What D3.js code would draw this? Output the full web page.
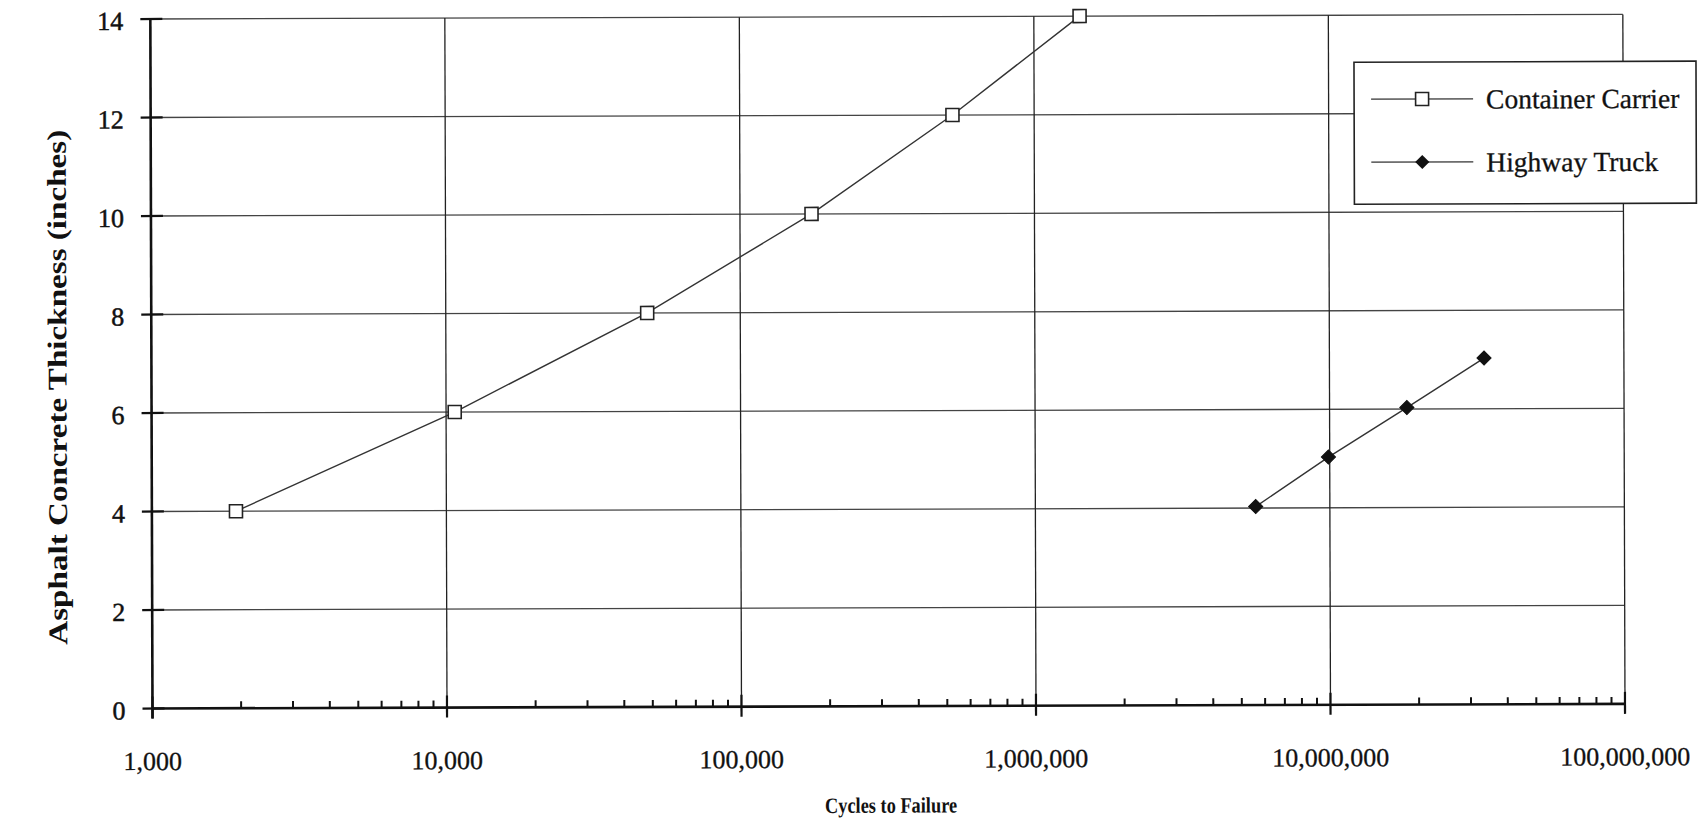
<!DOCTYPE html>
<html>
<head>
<meta charset="utf-8">
<script src="https://cdn.jsdelivr.net/npm/d3@7"></script>
<style>
  html, body { margin: 0; padding: 0; background: #fff; }
  svg { display: block; }
  text { font-family: "Liberation Serif", "Times New Roman", serif; fill: #111; }
</style>
</head>
<body>
<svg id="chart" width="1701" height="818"></svg>
<script>
// ---- data ----
const containerCycles = [1930, 10700, 48300, 175000, 528000, 1430000];
const containerThick  = [4, 6, 8, 10, 12, 14];
const truckCycles = [5600000, 9900000, 18300000, 33500000];
const truckThick  = [4.03, 5.03, 6.03, 7.03];
const xTickValues = [1000, 10000, 100000, 1000000, 10000000, 100000000];
const xTickLabels = ["1,000", "10,000", "100,000", "1,000,000", "10,000,000", "100,000,000"];
const yTickValues = [0, 2, 4, 6, 8, 10, 12, 14];
const seriesNames = ["Container Carrier", "Highway Truck"];
const xTitle = "Cycles to Failure";
const yTitle = "Asphalt Concrete Thickness (inches)";

// ---- layout ----
const L = 152.5, R = 1625, T = 19, B = 708.5;
const svg = d3.select("#chart");
const g = svg.append("g").attr("transform", `rotate(-0.18, ${L}, ${B})`);

const x = d3.scaleLog().domain([1000, 100000000]).range([L, R]);
const y = d3.scaleLinear().domain([0, 14]).range([B, T]);

// gridlines
g.append("g").selectAll("line").data(yTickValues.filter(v => v > 0)).join("line")
  .attr("x1", L).attr("x2", R).attr("y1", d => y(d)).attr("y2", d => y(d))
  .attr("stroke", "#444").attr("stroke-width", 1.3);
g.append("g").selectAll("line").data(xTickValues.filter(v => v > 1000)).join("line")
  .attr("x1", d => x(d)).attr("x2", d => x(d)).attr("y1", T).attr("y2", B)
  .attr("stroke", "#222").attr("stroke-width", 1.3);

// minor x ticks
const minor = [];
for (let e = 3; e < 8; e++) for (let m = 2; m <= 9; m++) minor.push(m * Math.pow(10, e));
g.append("g").selectAll("line").data(minor).join("line")
  .attr("x1", d => x(d)).attr("x2", d => x(d)).attr("y1", B - 7).attr("y2", B)
  .attr("stroke", "#111").attr("stroke-width", 2);

// axis lines
g.append("line").attr("x1", L).attr("x2", R).attr("y1", B).attr("y2", B)
  .attr("stroke", "#111").attr("stroke-width", 2.6);
g.append("line").attr("x1", L).attr("x2", L).attr("y1", T).attr("y2", B + 10)
  .attr("stroke", "#111").attr("stroke-width", 2.6);

// major x ticks
g.append("g").selectAll("line").data(xTickValues).join("line")
  .attr("x1", d => x(d)).attr("x2", d => x(d)).attr("y1", B - 12).attr("y2", B + 10)
  .attr("stroke", "#111").attr("stroke-width", 2.2);
// major y ticks
g.append("g").selectAll("line").data(yTickValues).join("line")
  .attr("x1", L - 10).attr("x2", L + 12).attr("y1", d => y(d)).attr("y2", d => y(d))
  .attr("stroke", "#111").attr("stroke-width", 2.2);

// tick labels
g.append("g").selectAll("text").data(yTickValues).join("text")
  .attr("x", L - 27).attr("y", d => y(d)).attr("dy", "0.42em")
  .attr("text-anchor", "end").attr("font-size", 26)
  .attr("stroke", "#111").attr("stroke-width", 0.5)
  .text(d => d3.format("d")(d));
g.append("g").selectAll("text").data(xTickValues).join("text")
  .attr("x", d => x(d)).attr("y", 770)
  .attr("text-anchor", "middle").attr("font-size", 26)
  .attr("stroke", "#111").attr("stroke-width", 0.3)
  .text((d, i) => xTickLabels[i]);

// axis titles
g.append("text").attr("x", (L + R) / 2 + 2).attr("y", 815)
  .attr("text-anchor", "middle").attr("font-size", 22).attr("font-weight", "bold")
  .attr("textLength", 132).attr("lengthAdjust", "spacingAndGlyphs")
  .text(xTitle);
g.append("text")
  .attr("transform", `translate(58, 387) rotate(-90)`)
  .attr("text-anchor", "middle").attr("dy", "0.35em")
  .attr("font-size", 27).attr("font-weight", "bold")
  .attr("textLength", 515).attr("lengthAdjust", "spacingAndGlyphs")
  .text(yTitle);

// series
const line = d3.line().x(d => x(d[0])).y(d => y(d[1]));
const cData = containerCycles.map((c, i) => [c, containerThick[i]]);
const tData = truckCycles.map((c, i) => [c, truckThick[i]]);

g.append("path").datum(cData).attr("d", line)
  .attr("fill", "none").attr("stroke", "#333").attr("stroke-width", 1.4);
g.append("path").datum(tData).attr("d", line)
  .attr("fill", "none").attr("stroke", "#333").attr("stroke-width", 1.4);

const sq = 13;
g.append("g").selectAll("rect").data(cData).join("rect")
  .attr("x", d => x(d[0]) - sq / 2).attr("y", d => y(d[1]) - sq / 2)
  .attr("width", sq).attr("height", sq)
  .attr("fill", "#fff").attr("stroke", "#222").attr("stroke-width", 1.6);

const diamond = d3.symbol().type(d3.symbolSquare).size(100);
g.append("g").selectAll("path").data(tData).join("path")
  .attr("transform", d => `translate(${x(d[0])},${y(d[1])}) rotate(45)`)
  .attr("d", diamond).attr("fill", "#111").attr("stroke", "#111").attr("stroke-width", 1);

// legend
const lg = g.append("g");
lg.append("rect").attr("x", 1356).attr("y", 66).attr("width", 342).attr("height", 142)
  .attr("fill", "#fff").attr("stroke", "#222").attr("stroke-width", 1.6);
const rows = [103, 166];
seriesNames.forEach((name, i) => {
  lg.append("line").attr("x1", 1373).attr("x2", 1475).attr("y1", rows[i]).attr("y2", rows[i])
    .attr("stroke", "#333").attr("stroke-width", 1.4);
  if (i === 0) {
    lg.append("rect").attr("x", 1424 - sq / 2).attr("y", rows[i] - sq / 2)
      .attr("width", sq).attr("height", sq)
      .attr("fill", "#fff").attr("stroke", "#222").attr("stroke-width", 1.6);
  } else {
    lg.append("path").attr("transform", `translate(1424,${rows[i]}) rotate(45)`)
      .attr("d", diamond).attr("fill", "#111");
  }
  lg.append("text").attr("x", 1488).attr("y", rows[i]).attr("dy", "0.35em")
    .attr("font-size", 27.5).attr("stroke", "#111").attr("stroke-width", 0.3)
    .text(name);
});
</script>
</body>
</html>
